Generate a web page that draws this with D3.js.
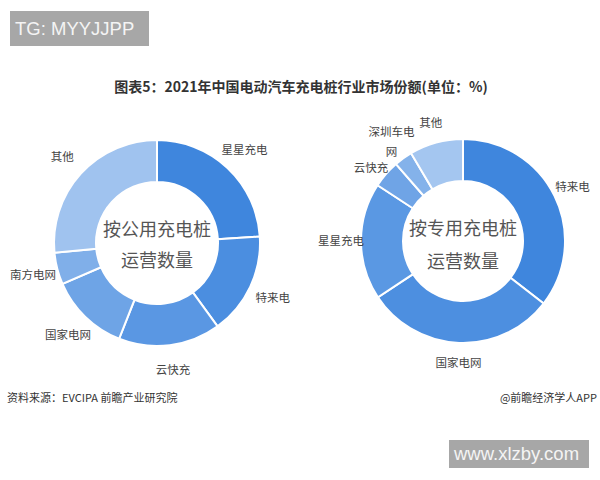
<!DOCTYPE html>
<html><head><meta charset="utf-8">
<script src="https://cdn.jsdelivr.net/npm/d3@7"></script>
<style>
html,body{margin:0;padding:0;background:#fff;}
svg{display:block;}
</style></head>
<body>
<svg id="chart" width="600" height="480"></svg>
<script>
// ---- data ----
const title = "图表5：2021年中国电动汽车充电桩行业市场份额(单位：%)";
const publicCategories = ["星星充电", "特来电", "云快充", "国家电网", "南方电网", "其他"];
const publicValues = [24, 16, 16, 12.5, 5, 26.5];
const publicCenter = ["按公用充电桩", "运营数量"];
const privateCategories = ["特来电", "国家电网", "星星充电", "云快充", "深圳车电网", "其他"];
const privateValues = [35.5, 30.2, 18.5, 4.4, 2.9, 8.5];
const privateCenter = ["按专用充电桩", "运营数量"];
const publicColors = ["#3f86dd", "#4b8ee0", "#5a97e3", "#6ea4e6", "#80afe9", "#a0c3ef"];
const privateColors = ["#3f86dd", "#4d8fe0", "#5a98e3", "#6fa4e6", "#84b2ea", "#a4c6f0"];
const sourceText = "资料来源：EVCIPA 前瞻产业研究院";
const creditText = "@前瞻经济学人APP";
const badgeTop = "TG: MYYJJPP";
const badgeBottom = "www.xlzby.com";

const svg = d3.select("#chart");
const CJK = "'Noto Sans CJK SC','Noto Sans',sans-serif";

// badges
function badge(x, y, w, h, txt) {
  svg.append("rect").attr("x", x).attr("y", y).attr("width", w).attr("height", h).attr("fill", "#a7a7a7");
  svg.append("text").attr("x", x + 5).attr("y", y + h / 2).attr("dy", "0.35em")
    .attr("font-family", "'Liberation Sans',Arial,sans-serif").attr("font-size", 18.5)
    .attr("fill", "#f4f4f4").text(txt);
}
badge(10, 11, 139, 35, badgeTop);
badge(449, 440, 140, 28, badgeBottom);

// title
svg.append("text").attr("x", 301).attr("y", 87).attr("text-anchor", "middle").attr("dy", "0.35em")
  .attr("font-family", CJK).attr("font-weight", "bold").attr("font-size", 14).attr("fill", "#333")
  .text(title);

// footers
svg.append("text").attr("x", 7).attr("y", 398).attr("dy", "0.35em")
  .attr("font-family", CJK).attr("font-size", 11).attr("fill", "#333").text(sourceText);
svg.append("text").attr("x", 597).attr("y", 398).attr("dy", "0.35em").attr("text-anchor", "end")
  .attr("font-family", CJK).attr("font-size", 11).attr("fill", "#333").text(creditText);

function donut(cx, cy, rIn, rOut, rLabel, cats, vals, colors, centerLines, lineGap, textShift) {
  const g = svg.append("g").attr("transform", `translate(${cx},${cy})`);
  const pie = d3.pie().sort(null).value(d => d.v);
  const data = pie(cats.map((c, i) => ({ c, v: vals[i], col: colors[i] })));
  const arc = d3.arc().innerRadius(rIn).outerRadius(rOut);
  const labelArc = d3.arc().innerRadius(rLabel).outerRadius(rLabel);
  g.selectAll("path.slice").data(data).join("path").attr("class", "slice")
    .attr("d", arc).attr("fill", d => d.data.col)
    .attr("stroke", "#fff").attr("stroke-width", 2);

  // label layout: start at arc centroid, then push overlapping labels apart vertically
  const fs = 11.5;
  const labels = data.map(d => {
    const s = d.data.c;
    const lines = s.length > 4 ? [s.slice(0, 4), s.slice(4)] : [s];
    const [x, y] = labelArc.centroid(d);
    const w = Math.max(...lines.map(l => l.length)) * fs;
    const h = lines.length === 1 ? fs : fs * 2.7;
    return { d, lines, x, y, w, h };
  });
  const sorted = labels.slice().sort((a, b) => a.y - b.y);
  for (let i = 1; i < sorted.length; i++) {
    const b = sorted[i];
    for (let j = 0; j < i; j++) {
      const a = sorted[j];
      const xOverlap = Math.abs(a.x - b.x) < (a.w + b.w) / 2;
      const need = (a.h + b.h) / 2 + 5;
      if (xOverlap && b.y - a.y < need) b.y = a.y + need;
    }
  }
  const lab = g.selectAll("text.lab").data(labels).join("text").attr("class", "lab")
    .attr("transform", l => `translate(${l.x},${l.y})`)
    .attr("text-anchor", "middle")
    .attr("font-family", CJK).attr("font-size", fs).attr("fill", "#444");
  lab.each(function (l) {
    const t = d3.select(this);
    const off = -(l.lines.length - 1) * 0.85;
    l.lines.forEach((ln, i) => {
      t.append("tspan").attr("x", 0).attr("dy", i === 0 ? (off + 0.35) + "em" : "1.7em").text(ln);
    });
  });
  centerLines.forEach((ln, i) => {
    g.append("text").attr("x", 0).attr("y", (i - 0.5) * lineGap + textShift).attr("dy", "0.35em")
      .attr("text-anchor", "middle").attr("font-family", CJK).attr("font-size", 18)
      .attr("fill", "#555").text(ln);
  });
}

donut(157, 243, 61, 103, 128, publicCategories, publicValues, publicColors, publicCenter, 31, 2);
donut(463, 241, 60, 102, 122, privateCategories, privateValues, privateColors, privateCenter, 33, 4);
</script>
</body></html>
